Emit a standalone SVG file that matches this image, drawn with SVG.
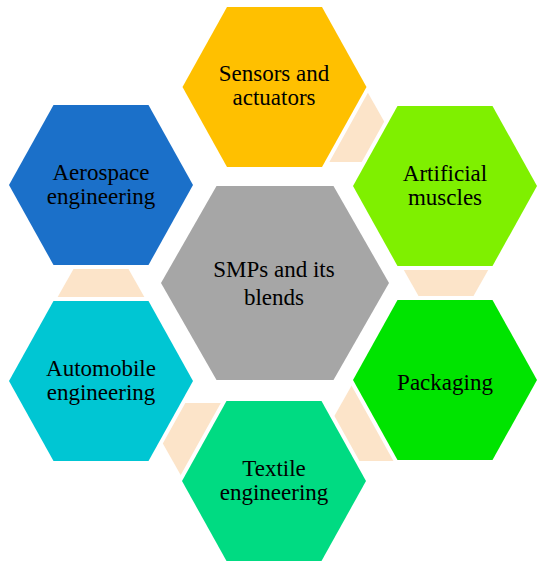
<svg xmlns="http://www.w3.org/2000/svg" xmlns:xlink="http://www.w3.org/1999/xlink" width="550" height="574" viewBox="0 0 550 574">
<style>
.hex{stroke:#FFFFFF;stroke-width:8;paint-order:stroke fill;stroke-linejoin:miter}
.con{fill:#FCE4C9}
.lbl{font-family:"Liberation Serif","DejaVu Serif",serif;font-size:23px;fill:#000000;text-anchor:middle}
</style>
<defs>
<polygon id="hx" points="-47.5,-80 47.5,-80 92,0 47.5,80 -47.5,80 -92,0"/>
<polygon id="cx" points="-23,-39 23,-39 45,0 23,39 -23,39 -45,0"/>
</defs>
<rect width="550" height="574" fill="#FFFFFF"/>
<g id="connectors">
<use xlink:href="#cx" href="#cx" class="con" transform="translate(340,123)"/>
<use xlink:href="#cx" href="#cx" class="con" transform="translate(446,265)"/>
<use xlink:href="#cx" href="#cx" class="con" transform="translate(376,422)"/>
<use xlink:href="#cx" href="#cx" class="con" transform="translate(207,442)"/>
<use xlink:href="#cx" href="#cx" class="con" transform="translate(101,300)"/>
</g>
<g id="center">
<polygon class="hex" fill="#A6A6A6" points="216.5,186 333.5,186 389,283 333.5,380 216.5,380 161,283"/>
<text class="lbl" font-family="Liberation Serif, serif" x="274" y="277">SMPs and its</text>
<text class="lbl" font-family="Liberation Serif, serif" x="274" y="305">blends</text>
</g>
<g id="sensors">
<use xlink:href="#hx" href="#hx" class="hex" fill="#FFC000" transform="translate(274.5,87)"/>
<text class="lbl" font-family="Liberation Serif, serif" x="274" y="81">Sensors and</text>
<text class="lbl" font-family="Liberation Serif, serif" x="274" y="105">actuators</text>
</g>
<g id="artificial">
<use xlink:href="#hx" href="#hx" class="hex" fill="#7FF000" transform="translate(445,186)"/>
<text class="lbl" font-family="Liberation Serif, serif" x="445" y="181">Artificial</text>
<text class="lbl" font-family="Liberation Serif, serif" x="445" y="205">muscles</text>
</g>
<g id="packaging">
<use xlink:href="#hx" href="#hx" class="hex" fill="#00E400" transform="translate(445,380)"/>
<text class="lbl" font-family="Liberation Serif, serif" x="445" y="390">Packaging</text>
</g>
<g id="textile">
<use xlink:href="#hx" href="#hx" class="hex" fill="#00DB82" transform="translate(274,481)"/>
<text class="lbl" font-family="Liberation Serif, serif" x="274" y="476">Textile</text>
<text class="lbl" font-family="Liberation Serif, serif" x="274" y="500">engineering</text>
</g>
<g id="automobile">
<use xlink:href="#hx" href="#hx" class="hex" fill="#00C6D3" transform="translate(101,381)"/>
<text class="lbl" font-family="Liberation Serif, serif" x="101" y="376">Automobile</text>
<text class="lbl" font-family="Liberation Serif, serif" x="101" y="400">engineering</text>
</g>
<g id="aerospace">
<use xlink:href="#hx" href="#hx" class="hex" fill="#1B70C9" transform="translate(101,185)"/>
<text class="lbl" font-family="Liberation Serif, serif" x="101" y="180">Aerospace</text>
<text class="lbl" font-family="Liberation Serif, serif" x="101" y="204">engineering</text>
</g>
</svg>
